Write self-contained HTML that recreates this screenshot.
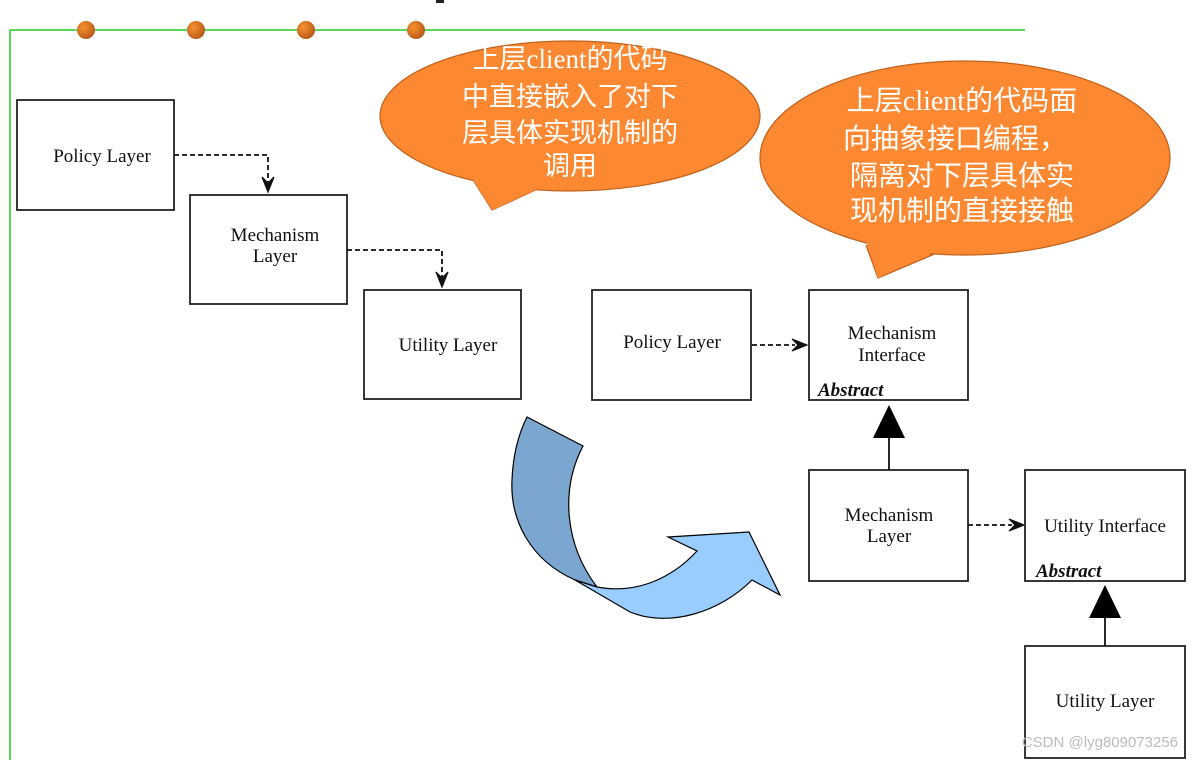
<!DOCTYPE html>
<html><head><meta charset="utf-8"><style>
html,body{margin:0;padding:0;background:#fff;}
svg{display:block;}
.t{font-family:"Liberation Serif",serif;font-size:19px;fill:#111;}
.a{font-family:"Liberation Serif",serif;font-size:19px;font-style:italic;font-weight:bold;fill:#111;}
.c{font-family:"Liberation Serif","Noto Sans CJK SC",sans-serif;fill:#fff;}
</style></head><body>
<svg width="1192" height="760" viewBox="0 0 1192 760" xmlns="http://www.w3.org/2000/svg">
<defs>
<radialGradient id="g" cx="0.35" cy="0.35" r="0.7"><stop offset="0" stop-color="#f7922f"/><stop offset="1" stop-color="#b8581a"/></radialGradient>
</defs>
<line x1="10" y1="30" x2="1025" y2="30" stroke="#22cc22" stroke-width="1.5"/>
<line x1="10" y1="30" x2="10" y2="760" stroke="#22cc22" stroke-width="1.5"/>
<circle cx="86" cy="30" r="9" fill="url(#g)"/>
<circle cx="196" cy="30" r="9" fill="url(#g)"/>
<circle cx="306" cy="30" r="9" fill="url(#g)"/>
<circle cx="416" cy="30" r="9" fill="url(#g)"/>
<rect x="436" y="0" width="8" height="3" fill="#222"/>

<g fill="#fff" stroke="#222" stroke-width="1.8">
<rect x="17" y="100" width="157" height="110"/>
<rect x="190" y="195" width="157" height="109"/>
<rect x="364" y="290" width="157" height="109"/>
<rect x="592" y="290" width="159" height="110"/>
<rect x="809" y="290" width="159" height="110"/>
<rect x="809" y="470" width="159" height="111"/>
<rect x="1025" y="470" width="160" height="111"/>
<rect x="1025" y="646" width="160" height="112"/>
</g>
<text class="t" x="102" y="162" text-anchor="middle">Policy Layer</text>
<text class="t" x="275" y="241" text-anchor="middle">Mechanism</text>
<text class="t" x="275" y="262" text-anchor="middle">Layer</text>
<text class="t" x="448" y="351" text-anchor="middle">Utility Layer</text>
<text class="t" x="672" y="348" text-anchor="middle">Policy Layer</text>
<text class="t" x="892" y="339" text-anchor="middle">Mechanism</text>
<text class="t" x="892" y="361" text-anchor="middle">Interface</text>
<text class="a" x="818" y="396">Abstract</text>
<text class="t" x="889" y="521" text-anchor="middle">Mechanism</text>
<text class="t" x="889" y="542" text-anchor="middle">Layer</text>
<text class="t" x="1105" y="532" text-anchor="middle">Utility Interface</text>
<text class="a" x="1036" y="577">Abstract</text>
<text class="t" x="1105" y="707" text-anchor="middle">Utility Layer</text>

<g fill="none" stroke="#111" stroke-width="1.8" stroke-dasharray="5,3">
<path d="M174 155 H268 V182"/>
<path d="M347 250 H442 V277"/>
<path d="M752 345 H795"/>
<path d="M968 525 H1012"/>
</g>
<g fill="#111" stroke="#111" stroke-width="1.2" stroke-linejoin="miter">
<path d="M262 177 L268 192 L274 177 L268 183 Z"/>
<path d="M436 272 L442 287 L448 272 L442 278 Z"/>
<path d="M792 339 L807 345 L792 351 L798 345 Z"/>
<path d="M1009 519 L1024 525 L1009 531 L1015 525 Z"/>
</g>
<g stroke="#111" stroke-width="1.8">
<line x1="889" y1="470" x2="889" y2="435"/>
<line x1="1105" y1="646" x2="1105" y2="615"/>
</g>
<polygon points="889,405 873,438 905,438" fill="#000"/>
<polygon points="1105,585 1089,618 1121,618" fill="#000"/>

<path d="M527,417 L583,446 C560,490 565,545 597,587 L575,580 C530,560 510,520 512,480 C513,455 518,435 527,417 Z" fill="#7aa6cf" stroke="#000" stroke-width="1.2"/>
<path d="M575,580 L597,587 C640,595 675,575 697,551 L668,537 L749,532 L780,595 L752,580 C720,612 670,628 630,612 Z" fill="#99ccff" stroke="#000" stroke-width="1.2"/>

<path d="M472,178 L492,210 L540,188" fill="#fd8832" stroke="#c0601a" stroke-width="1.2"/>
<ellipse cx="570" cy="116" rx="190" ry="75" fill="#fd8832" stroke="#c0601a" stroke-width="1.2"/>
<path d="M472,178 L492,210 L540,188 Z" fill="#fd8832"/>
<g class="c" font-size="27" text-anchor="middle">
<text x="570" y="68">上层client的代码</text>
<text x="570" y="106">中直接嵌入了对下</text>
<text x="570" y="142">层具体实现机制的</text>
<text x="570" y="175">调用</text>
</g>
<path d="M866,245 L878,278 L937,253" fill="#fd8832" stroke="#c0601a" stroke-width="1.2"/>
<ellipse cx="965" cy="158" rx="205" ry="97" fill="#fd8832" stroke="#c0601a" stroke-width="1.2"/>
<path d="M866,240 L878,278 L937,250 Z" fill="#fd8832"/>
<g class="c" font-size="28" text-anchor="middle">
<text x="962" y="110">上层client的代码面</text>
<text x="955" y="148">向抽象接口编程，</text>
<text x="962" y="185">隔离对下层具体实</text>
<text x="962" y="220">现机制的直接接触</text>
</g>
<text x="1178" y="747" text-anchor="end" font-family="Liberation Sans,sans-serif" font-size="15" fill="#bbb">CSDN @lyg809073256</text>
</svg>
</body></html>
